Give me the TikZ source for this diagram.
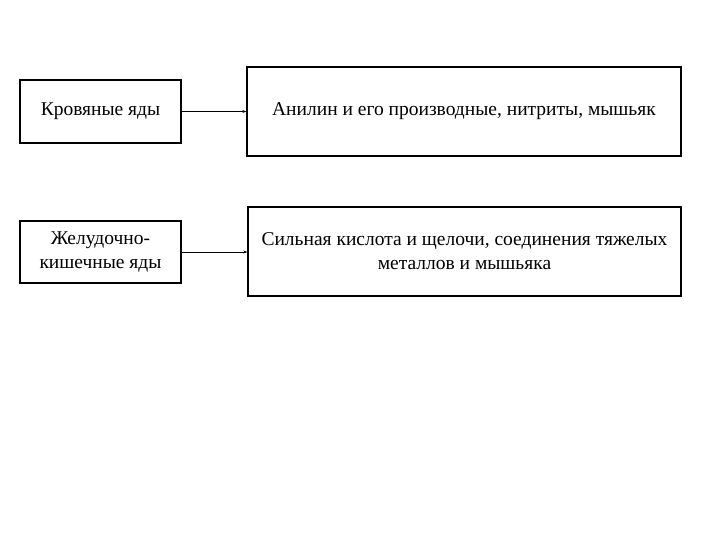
\documentclass[tikz,border=0pt]{standalone}
\usepackage{fontspec}
\setmainfont{Liberation Serif}
\usetikzlibrary{arrows.meta}
\begin{document}
\begin{tikzpicture}[x=1pt,y=-1pt,
  bx/.style={draw,line width=1.3pt,align=center,inner sep=0pt,font=\fontsize{19.5}{24}\selectfont},
  ar/.style={line width=0.8pt,-{Stealth[length=4pt,width=3pt]}}]
\useasboundingbox (0,0) rectangle (720,540);
\node[bx,minimum width=161pt,minimum height=63pt] (a) at (100.5,111.5) {Кровяные яды};
\node[bx,minimum width=434pt,minimum height=89pt] (b) at (464,111.5) {Анилин и его производные, нитриты, мышьяк};
\node[bx,minimum width=161pt,minimum height=62pt] (c) at (100.5,252) {Желудочно-\\кишечные яды};
\node[bx,minimum width=433pt,minimum height=89pt] (d) at (464.5,251.5) {Сильная кислота и щелочи, соединения тяжелых\\металлов и мышьяка};
\draw[ar] (a.east) -- (a.east -| b.west);
\draw[ar] (c.east) -- (c.east -| d.west);
\end{tikzpicture}
\end{document}
